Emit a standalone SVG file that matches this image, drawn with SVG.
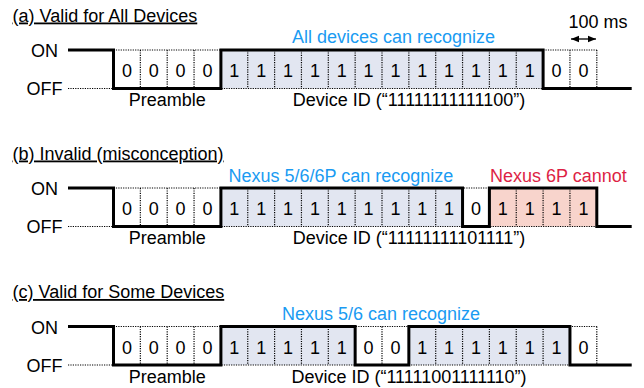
<svg xmlns="http://www.w3.org/2000/svg" width="644" height="388" viewBox="0 0 644 388">
<defs>
<style>
text{font-family:"Liberation Sans",Arial,sans-serif;font-size:18px;fill:#000}
.title{text-decoration:underline}
.lbl{text-anchor:middle}
.d{text-anchor:middle}
.blue{fill:#1A9BF2}
.red{fill:#DD1F45}
.dot{fill:none;stroke:#000;stroke-width:1.2;stroke-dasharray:1.2 1.2}
.thick{fill:none;stroke:#000;stroke-width:3;stroke-linejoin:miter;stroke-linecap:butt}
.f1{fill:#E2E6F1}
.f2{fill:#F8D4CC}
</style>
<marker id="ah" viewBox="0 0 8 8" refX="8" refY="4" markerWidth="8" markerHeight="8" markerUnits="userSpaceOnUse" orient="auto-start-reverse">
<path d="M0 0.8 L8 4 L0 7.2 Z" fill="#000"/>
</marker>
<path id="grid" class="dot" d="M68 88.5H113.5M113.5 50H596.8M113.5 88.5H596.8M140.35 50V88.5M167.2 50V88.5M194.05 50V88.5M220.9 50V88.5M247.75 50V88.5M274.6 50V88.5M301.45 50V88.5M328.3 50V88.5M355.15 50V88.5M382 50V88.5M408.85 50V88.5M435.7 50V88.5M462.55 50V88.5M489.4 50V88.5M516.25 50V88.5M543.1 50V88.5M569.95 50V88.5M596.8 50V88.5"/>
</defs>
<rect width="644" height="388" fill="#fff"/>

<g id="panel-a">
<text class="title" x="12.5" y="21.5">(a) Valid for All Devices</text>
<text class="lbl" x="44.5" y="57">ON</text>
<text class="lbl" x="44.5" y="95">OFF</text>
<rect class="f1" x="220.9" y="50" width="322.2" height="38.5"/>
<use href="#grid"/>
<path class="thick" d="M68 50H113.5V88.5H220.9V50H543.1V88.5H631.7"/>
<g id="bits-a">
<text class="d" x="126.9" y="77">0</text><text class="d" x="153.8" y="77">0</text><text class="d" x="180.6" y="77">0</text><text class="d" x="207.5" y="77">0</text>
<text class="d" x="234.3" y="77">1</text><text class="d" x="261.2" y="77">1</text><text class="d" x="288" y="77">1</text><text class="d" x="314.9" y="77">1</text><text class="d" x="341.7" y="77">1</text><text class="d" x="368.6" y="77">1</text><text class="d" x="395.4" y="77">1</text><text class="d" x="422.3" y="77">1</text><text class="d" x="449.1" y="77">1</text><text class="d" x="476" y="77">1</text><text class="d" x="502.8" y="77">1</text><text class="d" x="529.7" y="77">1</text>
<text class="d" x="556.5" y="77">0</text><text class="d" x="583.4" y="77">0</text>
</g>
<text class="lbl" x="167.2" y="106">Preamble</text>
<text class="lbl" x="409" y="106">Device ID (“11111111111100”)</text>
<text class="blue" x="292" y="43">All devices can recognize</text>
<text class="lbl" x="598" y="28">100 ms</text>
<line x1="571" y1="39" x2="596" y2="39" stroke="#000" stroke-width="1.3" marker-start="url(#ah)" marker-end="url(#ah)"/>
</g>

<g id="panel-b" transform="translate(0,138)">
<text class="title" x="12.5" y="21.5">(b) Invalid (misconception)</text>
<text class="lbl" x="44.5" y="57">ON</text>
<text class="lbl" x="44.5" y="95">OFF</text>
<rect class="f1" x="220.9" y="50" width="241.65" height="38.5"/>
<rect class="f2" x="489.4" y="50" width="107.4" height="38.5"/>
<use href="#grid"/>
<path class="thick" d="M68 50H113.5V88.5H220.9V50H462.55V88.5H489.4V50H596.8V88.5H631.7"/>
<g id="bits-b">
<text class="d" x="126.9" y="77">0</text><text class="d" x="153.8" y="77">0</text><text class="d" x="180.6" y="77">0</text><text class="d" x="207.5" y="77">0</text>
<text class="d" x="234.3" y="77">1</text><text class="d" x="261.2" y="77">1</text><text class="d" x="288" y="77">1</text><text class="d" x="314.9" y="77">1</text><text class="d" x="341.7" y="77">1</text><text class="d" x="368.6" y="77">1</text><text class="d" x="395.4" y="77">1</text><text class="d" x="422.3" y="77">1</text><text class="d" x="449.1" y="77">1</text><text class="d" x="476" y="77">0</text><text class="d" x="502.8" y="77">1</text><text class="d" x="529.7" y="77">1</text>
<text class="d" x="556.5" y="77">1</text><text class="d" x="583.4" y="77">1</text>
</g>
<text class="lbl" x="167.2" y="106">Preamble</text>
<text class="lbl" x="409" y="106">Device ID (“11111111101111”)</text>
<text class="blue" x="228.5" y="43.5">Nexus 5/6/6P can recognize</text>
<text class="red" x="490" y="43.5">Nexus 6P cannot</text>
</g>

<g id="panel-c" transform="translate(0,276.5)">
<text class="title" x="12.5" y="21.5">(c) Valid for Some Devices</text>
<text class="lbl" x="44.5" y="57">ON</text>
<text class="lbl" x="44.5" y="95">OFF</text>
<rect class="f1" x="220.9" y="50" width="134.25" height="38.5"/>
<rect class="f1" x="408.85" y="50" width="161.1" height="38.5"/>
<use href="#grid"/>
<path class="thick" d="M68 50H113.5V88.5H220.9V50H355.15V88.5H408.85V50H569.95V88.5H631.7"/>
<g id="bits-c">
<text class="d" x="126.9" y="77">0</text><text class="d" x="153.8" y="77">0</text><text class="d" x="180.6" y="77">0</text><text class="d" x="207.5" y="77">0</text>
<text class="d" x="234.3" y="77">1</text><text class="d" x="261.2" y="77">1</text><text class="d" x="288" y="77">1</text><text class="d" x="314.9" y="77">1</text><text class="d" x="341.7" y="77">1</text><text class="d" x="368.6" y="77">0</text><text class="d" x="395.4" y="77">0</text><text class="d" x="422.3" y="77">1</text><text class="d" x="449.1" y="77">1</text><text class="d" x="476" y="77">1</text><text class="d" x="502.8" y="77">1</text><text class="d" x="529.7" y="77">1</text>
<text class="d" x="556.5" y="77">1</text><text class="d" x="583.4" y="77">0</text>
</g>
<text class="lbl" x="167.2" y="106">Preamble</text>
<text class="lbl" x="409" y="106">Device ID (“11111001111110”)</text>
<text class="blue" x="282" y="43">Nexus 5/6 can recognize</text>
</g>
</svg>
